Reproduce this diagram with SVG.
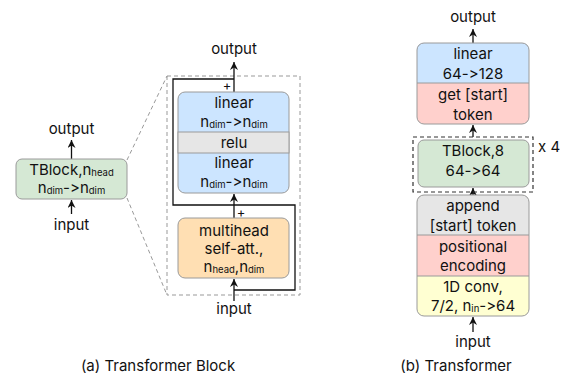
<svg xmlns="http://www.w3.org/2000/svg" width="561" height="377" viewBox="0 0 561 377">
<style>
text{font-family:Inter,"Liberation Sans",sans-serif;font-size:15px;fill:#111;text-anchor:middle;font-variant-ligatures:none;font-feature-settings:"calt" 0,"liga" 0}
.sub{font-size:9.5px}
.plus{font-size:13px}
.box{stroke:#9a9a9a;stroke-width:1}
.ln{fill:none;stroke:#111;stroke-width:1.3}
.dash{fill:none;stroke:#999;stroke-width:1;stroke-dasharray:4 3}
.dashk{fill:none;stroke:#333;stroke-width:1.2;stroke-dasharray:4 3}
.blue{fill:#cce5ff}.gray{fill:#e6e6e6}.green{fill:#d5e8d4}.orange{fill:#ffdfb3}.pink{fill:#ffd0cc}.yellow{fill:#ffffd2}
</style>
<defs>
<marker id="ah" markerUnits="userSpaceOnUse" markerWidth="9" markerHeight="9" refX="8" refY="4" orient="auto">
<path d="M0,0 L8,4 L0,8 L2.5,4 Z" fill="#111"/>
</marker>
</defs>

<g id="connectors">
<line class="ln" x1="71.5" y1="159" x2="71.5" y2="140" marker-end="url(#ah)"/>
<line class="ln" x1="71.5" y1="214" x2="71.5" y2="200" marker-end="url(#ah)"/>
<line class="dash" x1="127" y1="160" x2="167" y2="76"/>
<line class="dash" x1="127" y1="198" x2="167" y2="295"/>
<rect class="dash" x="167" y="76" width="133" height="219"/>
<line class="ln" x1="234" y1="92" x2="234" y2="62" marker-end="url(#ah)"/>
<line class="ln" x1="234" y1="218" x2="234" y2="194" marker-end="url(#ah)"/>
<line class="ln" x1="234" y1="301" x2="234" y2="279" marker-end="url(#ah)"/>
<path class="ln" d="M234,205 H173 V79 H234"/>
<path class="ln" d="M234,290 H295 V205 H234"/>
<line class="ln" x1="473" y1="43" x2="473" y2="29" marker-end="url(#ah)"/>
<line class="ln" x1="473" y1="137" x2="473" y2="125" marker-end="url(#ah)"/>
<line class="ln" x1="473" y1="195" x2="473" y2="188" marker-end="url(#ah)"/>
<line class="ln" x1="473" y1="332" x2="473" y2="317" marker-end="url(#ah)"/>
<rect class="dashk" x="413" y="137" width="120" height="55"/>
</g>

<g id="labels">
<text x="71.5" y="134">output</text>
<text x="71.5" y="230">input</text>
<text x="234" y="54">output</text>
<text x="234" y="314">input</text>
<text class="plus" x="227" y="90">+</text>
<text class="plus" x="241" y="217">+</text>
<text x="473" y="22">output</text>
<text x="473" y="347">input</text>
<text x="538" y="152" style="text-anchor:start">x 4</text>
<text x="158" y="371">(a) Transformer Block</text>
<text x="456" y="371">(b) Transformer</text>
</g>

<g id="tblock-left">
<rect class="box green" x="16" y="159" width="111" height="40" rx="6"/>
<text x="71.5" y="175">TBlock,n<tspan class="sub" dy="1">head</tspan></text>
<text x="71.5" y="193">n<tspan class="sub" dy="1">dim</tspan><tspan dy="-1">-&gt;n</tspan><tspan class="sub" dy="1">dim</tspan></text>
</g>

<g id="mlp">
<rect class="box blue" x="178" y="92" width="111" height="101" rx="7"/>
<rect class="box gray" x="178" y="132" width="111" height="21"/>
<text x="234" y="108">linear</text>
<text x="234" y="127">n<tspan class="sub" dy="1">dim</tspan><tspan dy="-1">-&gt;n</tspan><tspan class="sub" dy="1">dim</tspan></text>
<text x="234" y="148">relu</text>
<text x="234" y="168">linear</text>
<text x="234" y="187">n<tspan class="sub" dy="1">dim</tspan><tspan dy="-1">-&gt;n</tspan><tspan class="sub" dy="1">dim</tspan></text>
</g>

<g id="attention">
<rect class="box orange" x="178" y="218" width="111" height="60" rx="7"/>
<text x="234" y="236">multihead</text>
<text x="234" y="254">self-att.,</text>
<text x="234" y="272">n<tspan class="sub" dy="1">head</tspan><tspan dy="-1">,n</tspan><tspan class="sub" dy="1">dim</tspan></text>
</g>

<g id="head">
<rect class="pink" x="417" y="43" width="112" height="81" rx="7"/>
<path class="blue" d="M417,83 V50 Q417,43 424,43 H522 Q529,43 529,50 V83 Z"/>
<rect class="box" fill="none" x="417" y="43" width="112" height="81" rx="7"/>
<line class="box" x1="417" y1="83" x2="529" y2="83"/>
<text x="473" y="59">linear</text>
<text x="473" y="79">64-&gt;128</text>
<text x="473" y="100">get [start]</text>
<text x="473" y="120">token</text>
</g>

<g id="tblock-right">
<rect class="box green" x="418" y="140" width="111" height="47" rx="6"/>
<text x="473" y="156">TBlock,8</text>
<text x="473" y="176">64-&gt;64</text>
</g>

<g id="embed">
<rect class="yellow" x="417" y="195" width="112" height="121" rx="7"/>
<path class="gray" d="M417,235 V202 Q417,195 424,195 H522 Q529,195 529,202 V235 Z"/>
<rect class="pink" x="417" y="235" width="112" height="41"/>
<rect class="box" fill="none" x="417" y="195" width="112" height="121" rx="7"/>
<line class="box" x1="417" y1="235" x2="529" y2="235"/>
<line class="box" x1="417" y1="276" x2="529" y2="276"/>
<text x="473" y="211">append</text>
<text x="473" y="231">[start] token</text>
<text x="473" y="252">positional</text>
<text x="473" y="271">encoding</text>
<text x="473" y="292">1D conv,</text>
<text x="473" y="311">7/2, n<tspan class="sub" dy="1">in</tspan><tspan dy="-1">-&gt;64</tspan></text>
</g>
</svg>
